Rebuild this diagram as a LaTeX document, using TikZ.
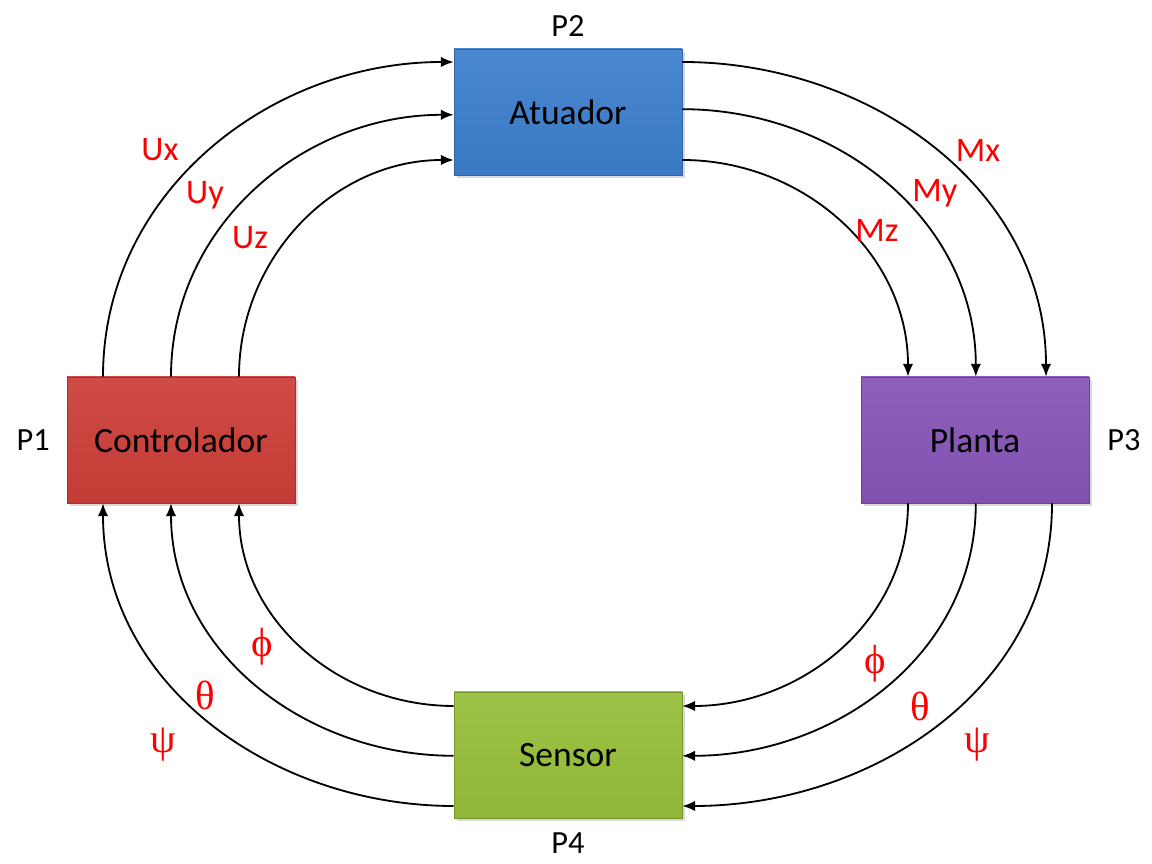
\documentclass[tikz,border=0pt]{standalone}
\usepackage{fontspec}
\setmainfont{Carlito}
\newfontfamily\greekfont{Liberation Serif}
\usetikzlibrary{arrows.meta, shadows, positioning}

\definecolor{ctrlred}{RGB}{204,62,56}
\definecolor{atublue}{RGB}{60,126,204}
\definecolor{plantpurple}{RGB}{134,84,182}
\definecolor{sensgreen}{RGB}{150,190,58}

\begin{document}
\begin{tikzpicture}[
    block/.style={minimum width=5.7cm, minimum height=3.15cm, draw=#1!80!black, line width=0.4pt,
        top color=#1!93!white, bottom color=#1!96!black, drop shadow={opacity=0.3},
        font=\fontsize{25.3}{30}\selectfont},
    signal/.style={line width=1.3pt, -{Latex[length=3.2mm, width=2.6mm]}},
    siglabel/.style={text=red, font=\fontsize{24.5}{29}\selectfont},
    greeklabel/.style={text=red, font=\greekfont\fontsize{29}{34}\selectfont},
    portlabel/.style={font=\fontsize{23}{27}\selectfont}
]
    \useasboundingbox (0,0) rectangle (28.8,21.6);
    % Draw the four blocks of the loop
    \node[block=ctrlred] (ctrl) at (4.525,10.6) {Controlador};
    \node[block=atublue] (atu) at (14.2,18.8) {Atuador};
    \node[block=plantpurple] (planta) at (24.375,10.6) {Planta};
    \node[block=sensgreen] (sens) at (14.2,2.725) {Sensor};
    % Port names
    \node[portlabel, left=0.3cm of ctrl] (p1) {P1};
    \node[portlabel, above=0.17cm of atu] (p2) {P2};
    \node[portlabel, right=0.33cm of planta] (p3) {P3};
    \node[portlabel, below=0.32cm of sens, inner sep=1pt] (p4) {P4};
    %
    % Controlador -> Atuador
    \draw[signal] ([xshift=-1.95cm]ctrl.north) to[out=90, in=180] ([yshift=1.25cm]atu.west);
    \draw[signal] ([xshift=-0.25cm]ctrl.north) to[out=90, in=180] ([yshift=-0.07cm]atu.west);
    \draw[signal] ([xshift=1.45cm]ctrl.north) to[out=90, in=180] ([yshift=-1.2cm]atu.west);
    \node[siglabel] (ux) at (4.0,17.85) {Ux};
    \node[siglabel] (uy) at (5.125,16.725) {Uy};
    \node[siglabel] (uz) at (6.25,15.65) {Uz};
    %
    % Atuador -> Planta
    \draw[signal] ([yshift=1.25cm]atu.east) to[out=0, in=90] ([xshift=1.775cm]planta.north);
    \draw[signal] ([yshift=0.07cm]atu.east) to[out=0, in=90] ([xshift=0.02cm]planta.north);
    \draw[signal] ([yshift=-1.2cm]atu.east) to[out=0, in=90] ([xshift=-1.675cm]planta.north);
    \node[siglabel] (mx) at (24.45,17.85) {Mx};
    \node[siglabel] (my) at (23.375,16.775) {My};
    \node[siglabel] (mz) at (21.925,15.85) {Mz};
    %
    % Planta -> Sensor
    \draw[signal] ([xshift=-1.675cm]planta.south) to[out=-90, in=0] ([yshift=1.225cm]sens.east);
    \draw[signal] ([xshift=0.02cm]planta.south) to[out=-90, in=0] ([yshift=-0.02cm]sens.east);
    \draw[signal] ([xshift=1.925cm]planta.south) to[out=-90, in=0] ([yshift=-1.275cm]sens.east);
    \node[greeklabel] (phiR) at (21.875,5.0) {ϕ};
    \node[greeklabel] (thetaR) at (23.0,3.95) {θ};
    \node[greeklabel] (psiR) at (24.425,2.975) {ψ};
    %
    % Sensor -> Controlador
    \draw[signal] ([yshift=1.225cm]sens.west) to[out=180, in=-90] ([xshift=1.45cm]ctrl.south);
    \draw[signal] ([yshift=-0.02cm]sens.west) to[out=180, in=-90] ([xshift=-0.25cm]ctrl.south);
    \draw[signal] ([yshift=-1.275cm]sens.west) to[out=180, in=-90] ([xshift=-1.95cm]ctrl.south);
    \node[greeklabel] (phiL) at (6.55,5.42) {ϕ};
    \node[greeklabel] (thetaL) at (5.125,4.225) {θ};
    \node[greeklabel] (psiL) at (4.075,2.975) {ψ};
\end{tikzpicture}
\end{document}
